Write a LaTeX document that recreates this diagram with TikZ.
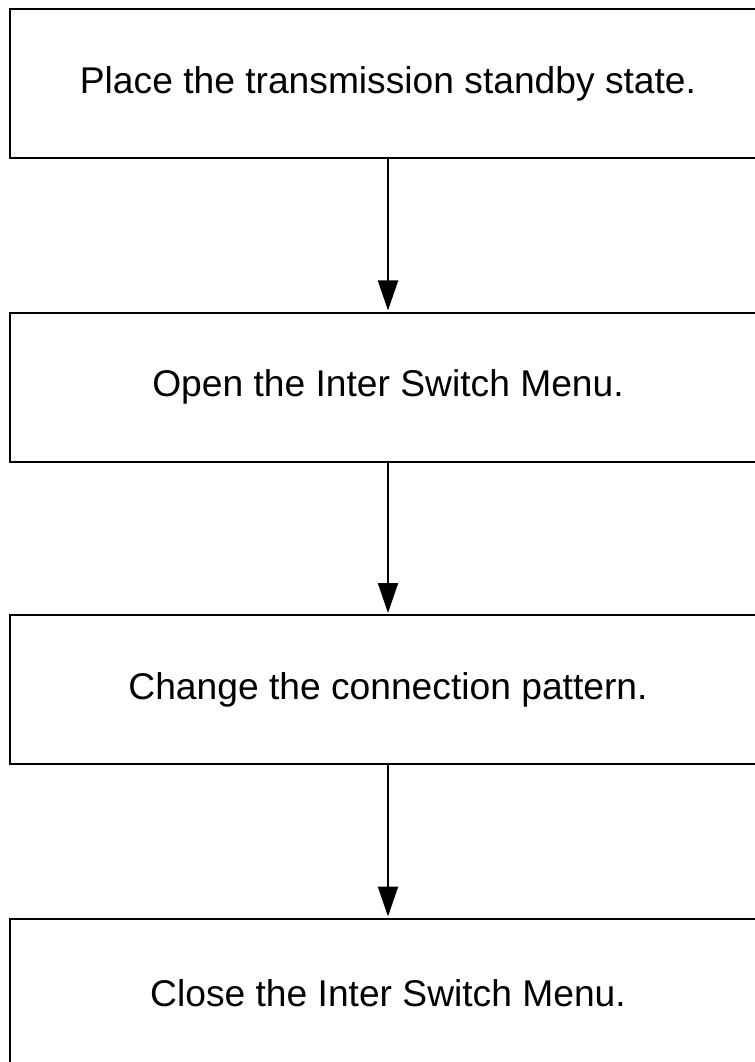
\documentclass[tikz,border=0pt]{standalone}
\usepackage{fontspec}
\setmainfont{Liberation Sans}
\usetikzlibrary{arrows.meta}
\begin{document}
\begin{tikzpicture}[x=0.75pt,y=-0.75pt,
  stepbox/.style={draw=black,line width=1.5pt,fill=white,minimum width=567pt,minimum height=111.75pt,inner sep=0pt,font=\fontsize{27.9pt}{33pt}\selectfont},
  flow/.style={line width=1.5pt,-{Triangle[length=22.5pt,width=15pt]},shorten >=0.75pt}]
\useasboundingbox (0,0) rectangle (755,1062);
\clip (0,0) rectangle (755,1062);
\node[stepbox] (b1) at (388,83.5) {Place the transmission standby state.};
\node[stepbox] (b2) at (388,387) {Open the Inter Switch Menu.};
\node[stepbox] (b3) at (388,689.5) {Change the connection pattern.};
\node[stepbox] (b4) at (388,993) {Close the Inter Switch Menu.};
\draw[flow] (b1) -- (b2);
\draw[flow] (b2) -- (b3);
\draw[flow] (b3) -- (b4);
\end{tikzpicture}
\end{document}
